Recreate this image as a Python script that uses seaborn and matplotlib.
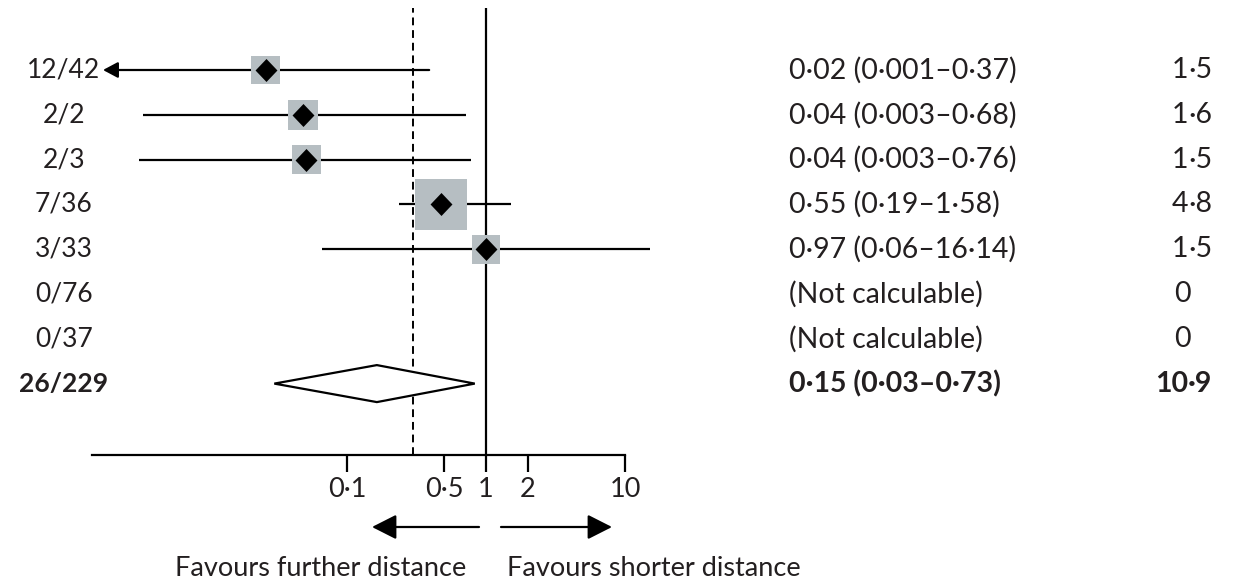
import numpy as np
import pandas as pd
import matplotlib
matplotlib.use("Agg")
import matplotlib.pyplot as plt
import matplotlib.transforms as mtrans
import seaborn as sns

# ---------------- data ----------------
events = ["12/42", "2/2", "2/3", "7/36", "3/33", "0/76", "0/37", "26/229"]
# marker positions as drawn in the figure
estimate = [0.026, 0.048, 0.051, 0.475, 1.0, np.nan, np.nan, 0.164]
ci_low = [0.001, 0.0034, 0.0032, 0.237, 0.066, np.nan, np.nan, 0.030]
ci_high = [0.39, 0.72, 0.78, 1.51, 15.1, np.nan, np.nan, 0.83]
effect_text = ["0·02 (0·001–0·37)", "0·04 (0·003–0·68)", "0·04 (0·003–0·76)",
               "0·55 (0·19–1·58)", "0·97 (0·06–16·14)", "(Not calculable)",
               "(Not calculable)", "0·15 (0·03–0·73)"]
weights = [1.5, 1.6, 1.5, 4.8, 1.5, 0, 0, 10.9]
weight_text = ["1·5", "1·6", "1·5", "4·8", "1·5", "0", "0", "10·9"]
tick_values = [0.1, 0.5, 1, 2, 10]
tick_labels = ["0·1", "0·5", "1", "2", "10"]
dashed_ref = 0.3
left_label = "Favours further distance"
right_label = "Favours shorter distance"

n_studies = 7  # rows before the pooled row

# ---------------- style ----------------
sns.set_theme(style="white")
plt.rcParams["font.family"] = ["Lato", "DejaVu Sans"]
TXT = "#231f20"
SQ = "#b6bec2"
FS = 19.5
FS_R = 20.5
FS_L = 19

W, H = 1253, 581
fig = plt.figure(figsize=(W / 100, H / 100), dpi=100)

def fx(px):
    return px / W

def fy(py):
    return 1 - py / H

ax_l, ax_r, ax_t, ax_b = 92, 625, 8, 455
ax = fig.add_axes([fx(ax_l), fy(ax_b), fx(ax_r) - fx(ax_l), fy(ax_t) - fy(ax_b)])
ax.set_xscale("log")
px_per_dec = (ax_r - 486) / 1.0
ax.set_xlim(10 ** ((ax_l - 486) / px_per_dec), 10)
row0, dy = 70, 44.8
ax.set_ylim((ax_b - row0) / dy, (ax_t - row0) / dy)

df = pd.DataFrame({"row": np.arange(len(events)), "est": estimate,
                   "lo": ci_low, "hi": ci_high, "w": weights})
studies = df.iloc[:n_studies].dropna()

# reference lines
ax.axvline(1, color="black", lw=1.6, zorder=1)
ax.axvline(dashed_ref, color="black", lw=1.4, ls=(0, (4, 2.5)), zorder=1)

# CI lines
xmin = ax.get_xlim()[0]
for _, r in studies.iterrows():
    if r.lo < xmin:
        ax.annotate("", xy=(xmin * 1.2, r.row), xytext=(r.hi, r.row),
                    arrowprops=dict(arrowstyle="-|>,head_length=0.75,head_width=0.4",
                                    color="black", lw=1.6, shrinkA=0, shrinkB=0),
                    annotation_clip=False, zorder=2)
    else:
        ax.hlines(r.row, r.lo, r.hi, color="black", lw=1.6, clip_on=False, zorder=2)

# weight squares
side_pt = 23.5 * np.sqrt(studies["w"].values) * 0.72
sq_df = studies.assign(s=side_pt ** 2)
sns.scatterplot(data=sq_df, x="est", y="row", size="s", sizes=(sq_df.s.min(), sq_df.s.max()),
                marker="s", color=SQ, edgecolor="none", linewidth=0, legend=False,
                ax=ax, zorder=3, clip_on=False)

# point diamonds
diamond = [(-1, 0), (0, 1.05), (1, 0), (0, -1.05), (-1, 0)]
sns.scatterplot(data=studies, x="est", y="row", marker=diamond, s=(23 * 0.72) ** 2,
                color="black", edgecolor="black", linewidth=0, legend=False,
                ax=ax, zorder=4, clip_on=False)

# pooled diamond
p = df.iloc[n_studies]
hh = 18.5 / dy
ax.fill([p.lo, p.est, p.hi, p.est], [p.row, p.row - hh, p.row, p.row + hh],
        facecolor="white", edgecolor="black", lw=1.6, zorder=5)

# axes styling
for s in ["left", "right", "top"]:
    ax.spines[s].set_visible(False)
ax.spines["bottom"].set_color("black")
ax.spines["bottom"].set_linewidth(1.6)
ax.set_yticks([])
ax.set_xticks(tick_values)
ax.set_xticklabels(tick_labels)
ax.xaxis.set_minor_locator(matplotlib.ticker.NullLocator())
ax.tick_params(axis="x", which="major", direction="out", length=12, width=1.6,
               color="black", labelsize=FS, labelcolor=TXT, pad=4, bottom=True)
ax.set_xlabel("")
ax.set_ylabel("")
ax.patch.set_alpha(0)

# text columns
tr = mtrans.blended_transform_factory(fig.transFigure, ax.transData)
dec_x = 1188
for i in range(len(events)):
    bold = "bold" if i == n_studies else "normal"
    ax.text(fx(64), i, events[i], transform=tr, ha="center", va="center",
            fontsize=FS_L, color=TXT, fontweight=bold)
    ax.text(fx(789), i, effect_text[i], transform=tr, ha="left", va="center",
            fontsize=FS_R, color=TXT, fontweight=bold)
    wt = weight_text[i]
    if "·" in wt:
        a, b = wt.split("·")
        ax.text(fx(dec_x), i, a, transform=tr, ha="right", va="center",
                fontsize=FS_R, color=TXT, fontweight=bold)
        ax.text(fx(dec_x), i, "·" + b, transform=tr, ha="left", va="center",
                fontsize=FS_R, color=TXT, fontweight=bold)
    else:
        ax.text(fx(dec_x + 3), i, wt, transform=tr, ha="right", va="center",
                fontsize=FS_R, color=TXT, fontweight=bold)

# favours arrows
arr_y = fy(527)
for x0, x1 in [(479, 372), (501, 612)]:
    fig.add_artist(matplotlib.patches.FancyArrowPatch(
        (fx(x0), arr_y), (fx(x1), arr_y), transform=fig.transFigure,
        arrowstyle="-|>,head_length=0.75,head_width=0.38", color="black", lw=1.6,
        mutation_scale=20, shrinkA=0, shrinkB=0))
fig.text(fx(321), fy(568), left_label, ha="center", va="center", fontsize=FS, color=TXT)
fig.text(fx(654), fy(568), right_label, ha="center", va="center", fontsize=FS, color=TXT)

fig.savefig("out.png", dpi=100, facecolor="white")
